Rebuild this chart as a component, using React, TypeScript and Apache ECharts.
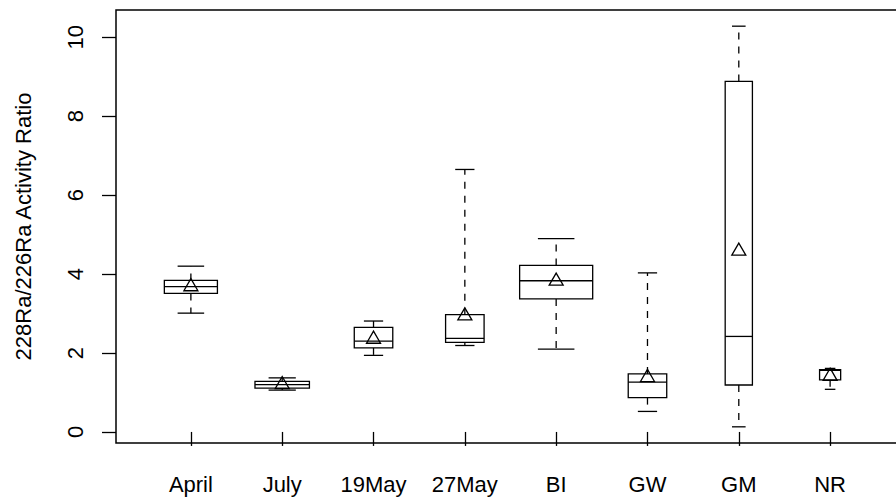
import React, { useEffect, useRef } from "react";
import * as echarts from "echarts";

const categories = ["April", "July", "19May", "27May", "BI", "GW", "GM", "NR"];
const lowerWhisker = [3.01, 1.06, 1.94, 2.19, 2.1, 0.52, 0.13, 1.08];
const lowerQuartile = [3.51, 1.11, 2.13, 2.27, 3.37, 0.87, 1.19, 1.32];
const medians = [3.68, 1.2, 2.3, 2.37, 3.83, 1.26, 2.42, 1.56];
const upperQuartile = [3.84, 1.28, 2.65, 2.97, 4.22, 1.47, 8.88, 1.58];
const upperWhisker = [4.2, 1.37, 2.81, 6.65, 4.9, 4.03, 10.28, 1.61];
const means = [3.68, 1.2, 2.35, 2.94, 3.82, 1.38, 4.58, 1.41];
const sampleSizes = [19, 20, 10, 10, 36, 10, 5, 3];
const yTicks = [0, 2, 4, 6, 8, 10];
const yTitle = "228Ra/226Ra Activity Ratio";

const FONT = "'Liberation Sans', Arial, Helvetica, sans-serif";

export default function App() {
  const ref = useRef<HTMLDivElement>(null);
  useEffect(() => {
    if (!ref.current) return;
    const chart = echarts.init(ref.current, undefined, { renderer: "svg" });
    const maxN = Math.max(...sampleSizes);
    const data = categories.map((_, i) => [
      i + 1,
      lowerWhisker[i],
      lowerQuartile[i],
      medians[i],
      upperQuartile[i],
      upperWhisker[i],
      means[i],
      sampleSizes[i],
    ]);
    const lw = 1.3;
    const dash = [7, 7];
    chart.setOption({
      animation: false,
      backgroundColor: "#ffffff",
      grid: {
        left: 116,
        top: 10,
        width: 789,
        height: 433,
        show: true,
        borderColor: "#000",
        borderWidth: 1.5,
        backgroundColor: "transparent",
      },
      xAxis: {
        type: "value",
        min: 0.18,
        max: 8.82,
        axisLine: { show: false },
        splitLine: { show: false },
        axisTick: {
          show: true,
          customValues: categories.map((_, i) => i + 1),
          length: 14,
          inside: false,
          lineStyle: { color: "#000", width: 1.3 },
        },
        axisLabel: {
          customValues: categories.map((_, i) => i + 1),
          formatter: (v: number) => categories[Math.round(v) - 1] ?? "",
          margin: 30,
          color: "#000",
          fontSize: 22,
          fontFamily: FONT,
        },
      },
      yAxis: {
        type: "value",
        min: -0.28,
        max: 10.69,
        name: yTitle,
        nameLocation: "middle",
        nameRotate: 90,
        nameGap: 82,
        nameTextStyle: { color: "#000", fontSize: 22, fontFamily: FONT },
        axisLine: { show: false },
        splitLine: { show: false },
        axisTick: {
          show: true,
          customValues: yTicks,
          length: 14,
          inside: false,
          lineStyle: { color: "#000", width: 1.3 },
        },
        axisLabel: {
          customValues: yTicks,
          rotate: 90,
          margin: 30,
          color: "#000",
          fontSize: 22,
          fontFamily: FONT,
        },
      },
      series: [
        {
          type: "custom",
          data,
          encode: { x: 0, y: [1, 2, 3, 4, 5, 6] },
          renderItem: (params: any, api: any) => {
            const x = api.value(0);
            const lo = api.value(1);
            const b1 = api.value(2);
            const md = api.value(3);
            const b3 = api.value(4);
            const hi = api.value(5);
            const mn = api.value(6);
            const n = api.value(7);
            const w = api.size([0.8 * Math.sqrt(n / maxN), 0])[0];
            const [cx, yLo] = api.coord([x, lo]);
            const yB1 = api.coord([x, b1])[1];
            const yMd = api.coord([x, md])[1];
            const yB3 = api.coord([x, b3])[1];
            const yHi = api.coord([x, hi])[1];
            const yMn = api.coord([x, mn])[1];
            const stroke = { stroke: "#000", lineWidth: lw, fill: "none" };
            const hw = w / 2;
            const cw = w / 4;
            const children: any[] = [
              {
                type: "line",
                shape: { x1: cx, y1: yB3, x2: cx, y2: yHi },
                style: { ...stroke, lineDash: dash },
              },
              {
                type: "line",
                shape: { x1: cx, y1: yB1, x2: cx, y2: yLo },
                style: { ...stroke, lineDash: dash },
              },
              {
                type: "line",
                shape: { x1: cx - cw, y1: yHi, x2: cx + cw, y2: yHi },
                style: stroke,
              },
              {
                type: "line",
                shape: { x1: cx - cw, y1: yLo, x2: cx + cw, y2: yLo },
                style: stroke,
              },
              {
                type: "rect",
                shape: { x: cx - hw, y: yB3, width: w, height: yB1 - yB3 },
                style: { stroke: "#000", lineWidth: lw, fill: "#fff" },
              },
              {
                type: "line",
                shape: { x1: cx - hw, y1: yMd, x2: cx + hw, y2: yMd },
                style: stroke,
              },
              {
                type: "polygon",
                shape: {
                  points: [
                    [cx, yMn - 8.1],
                    [cx + 7, yMn + 4.05],
                    [cx - 7, yMn + 4.05],
                  ],
                },
                style: stroke,
              },
            ];
            return { type: "group", children };
          },
        },
      ],
    });
    return () => chart.dispose();
  }, []);
  return (
    <div style={{ position: "fixed", left: 0, top: 0, width: 896, height: 502, overflow: "hidden", background: "#fff" }}>
      <div ref={ref} style={{ width: 920, height: 502 }} />
    </div>
  );
}
